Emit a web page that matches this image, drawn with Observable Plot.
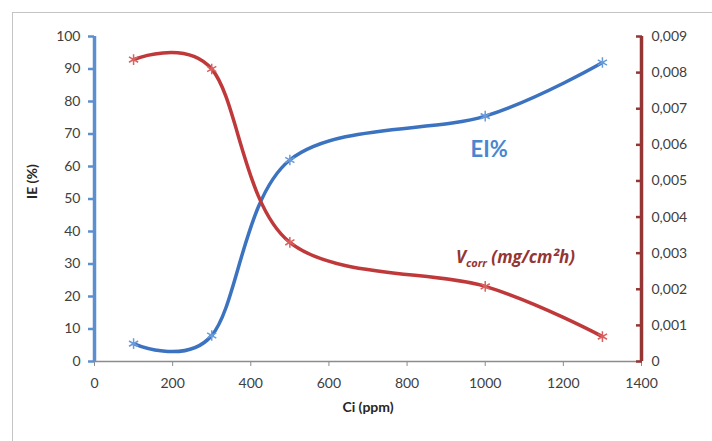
<!DOCTYPE html>
<html><head><meta charset="utf-8">
<script src="https://cdn.jsdelivr.net/npm/d3@7"></script>
<script src="https://cdn.jsdelivr.net/npm/@observablehq/plot@0.6"></script>
<style>
html,body{margin:0;padding:0;background:#fff;overflow:hidden;}
#wrap{position:relative;width:712px;height:441px;}
#border{position:absolute;left:12px;top:12px;width:800px;height:600px;border:1.5px solid #c4c4c4;box-sizing:border-box;}
#chart{position:absolute;left:0;top:0;}
svg{background:transparent !important;}
</style></head>
<body><div id="wrap"><div id="border"></div><div id="chart"></div></div>
<script>
const concentration = [100, 300, 500, 1000, 1300];
const ieValues = [5.5, 8, 62, 75.5, 92];
const vcorrValues = [0.00836, 0.0081, 0.0033, 0.00208, 0.00069];
const xTicks = [0, 200, 400, 600, 800, 1000, 1200, 1400];
const leftTicks = [0, 10, 20, 30, 40, 50, 60, 70, 80, 90, 100];
const rightTicks = [0, 0.001, 0.002, 0.003, 0.004, 0.005, 0.006, 0.007, 0.008, 0.009];
const rightTickLabels = ["0", "0,001", "0,002", "0,003", "0,004", "0,005", "0,006", "0,007", "0,008", "0,009"];
const rightMax = 0.009;
const leftMax = 100;

const toLeft = v => v / rightMax * leftMax;
const ieData = concentration.map((c, i) => ({x: c, y: ieValues[i]}));
const vcData = concentration.map((c, i) => ({x: c, y: toLeft(vcorrValues[i])}));

const blue = "#3b73c0", blueAxis = "#5b8fd0", red = "#c0393a", redAxis = "#943634";
const font = "Lato, 'Open Sans', sans-serif";

const chart = Plot.plot({
  width: 712, height: 441,
  marginLeft: 94, marginRight: 71, marginTop: 36, marginBottom: 80,
  style: {fontFamily: font, fontSize: "14px", color: "#404040", background: "transparent"},
  x: {domain: [0, 1400]},
  y: {domain: [0, 100]},
  marks: [
    // x axis
    Plot.ruleY([0], {stroke: "#8c8c8c", strokeWidth: 1.3}),
    Plot.axisX(xTicks, {tickSize: 5, tickPadding: 12, tickFormat: d => String(d), stroke: "#8c8c8c", fill: "#404040", fontSize: 14, label: null}),
    Plot.text(["Ci (ppm)"], {frameAnchor: "bottom", dy: 50, fontWeight: "bold", fontSize: 14, fill: "#262626"}),
    // left axis
    Plot.ruleX([0], {stroke: blueAxis, strokeWidth: 3.5}),
    Plot.axisY(leftTicks, {anchor: "left", tickSize: 6, tickPadding: 8, tickFormat: d => String(d), stroke: blueAxis, strokeWidth: 2.5, fill: "#404040", fontSize: 14, label: null}),
    Plot.text(["IE (%)"], {frameAnchor: "left", dx: -62, rotate: -90, fontWeight: "bold", fontSize: 14, fill: "#262626"}),
    // right axis
    Plot.ruleX([1400], {stroke: redAxis, strokeWidth: 3.5}),
    Plot.axisY(rightTicks.map(toLeft), {anchor: "right", tickSize: 6, dx: -6, stroke: redAxis, strokeWidth: 2.5, text: null, label: null}),
    Plot.axisY(rightTicks.map(toLeft), {anchor: "right", tickSize: 0, tickPadding: 10, tickFormat: (d, i) => rightTickLabels[i], fill: "#404040", fontSize: 14, label: null}),
    // series
    Plot.line(ieData, {x: "x", y: "y", stroke: blue, strokeWidth: 3.5, curve: "cardinal"}),
    Plot.line(vcData, {x: "x", y: "y", stroke: red, strokeWidth: 3.5, curve: "cardinal"}),
    Plot.dot(ieData, {x: "x", y: "y", symbol: "asterisk", r: 5, stroke: "#6a9bd8", strokeWidth: 1.5}),
    Plot.dot(vcData, {x: "x", y: "y", symbol: "asterisk", r: 5, stroke: "#d9605f", strokeWidth: 1.5}),
    // annotations
    Plot.text(["EI%"], {x: 1010, y: 65, fontSize: 22, fontWeight: "bold", fill: "#4a86d0"}),
    Plot.text(["Vcorr (mg/cm²h)"], {x: 925, y: 32, textAnchor: "start", fontFamily: "'Open Sans', sans-serif", fontSize: 17, fontWeight: "bold", fontStyle: "italic", fill: redAxis})
  ]
});
document.getElementById("chart").appendChild(chart);

// subscript for the Vcorr label
chart.querySelectorAll("text").forEach(t => {
  if (t.textContent === "Vcorr (mg/cm²h)") {
    const ns = "http://www.w3.org/2000/svg";
    t.textContent = "";
    const a = document.createElementNS(ns, "tspan"); a.textContent = "V";
    const b = document.createElementNS(ns, "tspan"); b.textContent = "corr"; b.setAttribute("font-size", "11"); b.setAttribute("dy", "4");
    const c = document.createElementNS(ns, "tspan"); c.textContent = " (mg/cm²h)"; c.setAttribute("dy", "-4");
    t.append(a, b, c);
  }
});
</script></body></html>
